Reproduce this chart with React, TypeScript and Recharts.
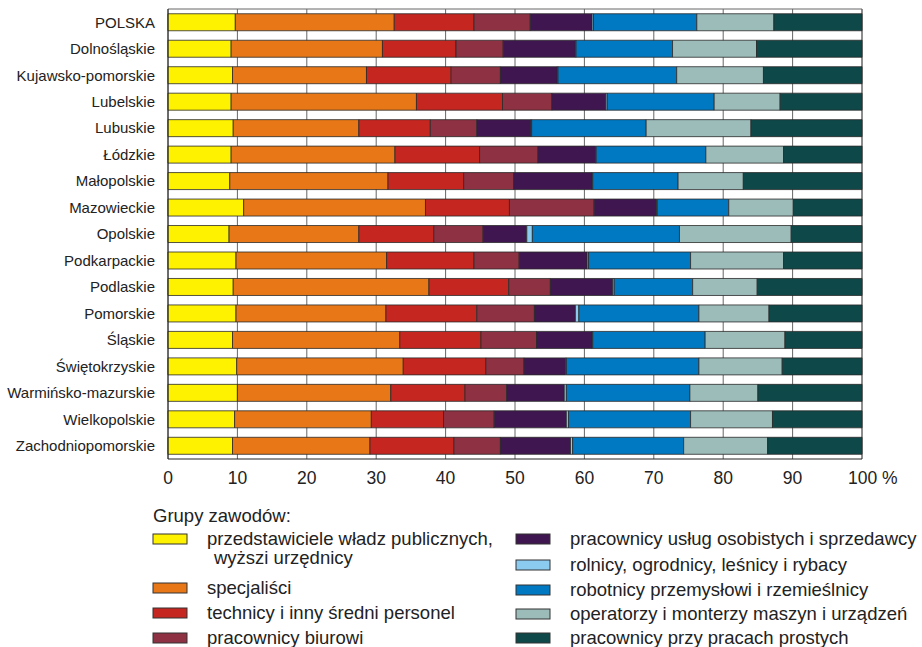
import React from "react";
import { BarChart, Bar, XAxis, YAxis, CartesianGrid } from "recharts";

const regions = [
  "POLSKA",
  "Dolnośląskie",
  "Kujawsko-pomorskie",
  "Lubelskie",
  "Lubuskie",
  "Łódzkie",
  "Małopolskie",
  "Mazowieckie",
  "Opolskie",
  "Podkarpackie",
  "Podlaskie",
  "Pomorskie",
  "Śląskie",
  "Świętokrzyskie",
  "Warmińsko-mazurskie",
  "Wielkopolskie",
  "Zachodniopomorskie",
];

// shares in % per region, same order as regions
const przedstawiciele = [9.7, 9.1, 9.3, 9.1, 9.4, 9.1, 8.9, 10.9, 8.8, 9.8, 9.4, 9.8, 9.3, 9.9, 10.0, 9.6, 9.3];
const specjalisci = [22.9, 21.8, 19.3, 26.7, 18.1, 23.6, 22.8, 26.2, 18.7, 21.7, 28.2, 21.6, 24.1, 24.0, 22.1, 19.7, 19.8];
const technicy = [11.5, 10.6, 12.2, 12.4, 10.3, 12.2, 10.9, 12.1, 10.8, 12.6, 11.5, 13.1, 11.7, 11.9, 10.7, 10.4, 12.1];
const biurowi = [8.1, 6.8, 7.1, 7.1, 6.7, 8.4, 7.2, 12.2, 7.1, 6.5, 6.0, 8.3, 8.0, 5.5, 6.0, 7.3, 6.7];
const uslugi = [8.9, 10.4, 8.2, 7.8, 7.8, 8.3, 11.3, 9.0, 6.3, 9.8, 9.0, 5.9, 8.0, 6.0, 8.3, 10.4, 10.1];
const rolnicy = [0.2, 0.1, 0.1, 0.2, 0.1, 0.1, 0.1, 0.1, 0.8, 0.2, 0.2, 0.5, 0.1, 0.1, 0.3, 0.3, 0.3];
const robotnicy = [14.9, 13.9, 17.1, 15.4, 16.5, 15.8, 12.3, 10.3, 21.2, 14.7, 11.3, 17.3, 16.2, 19.1, 17.8, 17.6, 16.0];
const operatorzy = [11.1, 12.1, 12.5, 9.5, 15.1, 11.2, 9.4, 9.3, 16.1, 13.4, 9.3, 10.1, 11.5, 12.0, 9.8, 11.8, 12.1];
const proste = [12.7, 15.2, 14.2, 11.8, 16.0, 11.3, 17.1, 9.9, 10.2, 11.3, 15.1, 13.4, 11.1, 11.5, 15.0, 12.9, 13.6];

const xTicks = [0, 10, 20, 30, 40, 50, 60, 70, 80, 90, 100];

const series = [
  { key: "przedstawiciele", values: przedstawiciele, color: "#FFF200", label: "przedstawiciele władz publicznych," },
  { key: "specjalisci", values: specjalisci, color: "#E87817", label: "specjaliści" },
  { key: "technicy", values: technicy, color: "#C52620", label: "technicy i inny średni personel" },
  { key: "biurowi", values: biurowi, color: "#8E3142", label: "pracownicy biurowi" },
  { key: "uslugi", values: uslugi, color: "#3F1650", label: "pracownicy usług osobistych i sprzedawcy" },
  { key: "rolnicy", values: rolnicy, color: "#8CCBF0", label: "rolnicy, ogrodnicy, leśnicy i rybacy" },
  { key: "robotnicy", values: robotnicy, color: "#0079C2", label: "robotnicy przemysłowi i rzemieślnicy" },
  { key: "operatorzy", values: operatorzy, color: "#9CBCBA", label: "operatorzy i monterzy maszyn i urządzeń" },
  { key: "proste", values: proste, color: "#0E4849", label: "pracownicy przy pracach prostych" },
];

const data = regions.map((name, i) => {
  const row: any = { name };
  series.forEach((s) => {
    row[s.key] = s.values[i];
  });
  return row;
});

const FONT = '"Liberation Sans", Arial, Helvetica, sans-serif';

const XTick = (props: any) => {
  const { x, y, payload } = props;
  const isLast = payload.value === 100;
  return (
    <text
      x={isLast ? x - 14 : x}
      y={y + 5}
      dy="0.71em"
      textAnchor={isLast ? "start" : "middle"}
      fontSize={17.5}
      fill="#222"
      fontFamily={FONT}
    >
      {isLast ? "100 %" : payload.value}
    </text>
  );
};

const Swatch = ({ x, y, color }: { x: number; y: number; color: string }) => (
  <rect x={x} y={y - 5} width={34} height={10} fill={color} stroke="#333" strokeWidth={1} />
);

const Legend = () => {
  const left = series.slice(0, 4);
  const right = series.slice(4);
  const leftY = [538, 587, 612, 637];
  const rightY = [538, 564, 589, 613, 637];
  const fs = 18.5;
  return (
    <svg width={922} height={647} style={{ position: "absolute", left: 0, top: 0, pointerEvents: "none" }}>
      <text x={153} y={515} dominantBaseline="central" fontSize={fs} fill="#222" fontFamily={FONT}>
        Grupy zawodów:
      </text>
      {left.map((s, i) => (
        <g key={s.key}>
          <Swatch x={153} y={leftY[i] + 1} color={s.color} />
          <text x={207} y={leftY[i]} dominantBaseline="central" fontSize={fs} fill="#222" fontFamily={FONT}>
            {s.label}
          </text>
        </g>
      ))}
      <text x={214} y={557} dominantBaseline="central" fontSize={fs} fill="#222" fontFamily={FONT}>
        wyższi urzędnicy
      </text>
      {right.map((s, i) => (
        <g key={s.key}>
          <Swatch x={516} y={rightY[i] + 1} color={s.color} />
          <text x={570} y={rightY[i]} dominantBaseline="central" fontSize={fs} fill="#222" fontFamily={FONT}>
            {s.label}
          </text>
        </g>
      ))}
    </svg>
  );
};

export default function App() {
  return (
    <div
      style={{
        position: "absolute",
        left: 0,
        top: 0,
        width: 922,
        height: 647,
        overflow: "hidden",
        background: "#fff",
        fontFamily: FONT,
      }}
    >
      <BarChart
        width={922}
        height={490}
        data={data}
        layout="vertical"
        margin={{ top: 9, right: 60, bottom: 1, left: 0 }}
        barCategoryGap="18%"
      >
        <CartesianGrid vertical horizontal horizontalPoints={[9]} stroke="#666" strokeWidth={1} />
        <XAxis
          type="number"
          domain={[0, 100]}
          ticks={xTicks}
          interval={0}
          height={30}
          tickLine={false}
          axisLine={{ stroke: "#222" }}
          tick={<XTick />}
        />
        <YAxis
          type="category"
          dataKey="name"
          width={168}
          interval={0}
          tickLine={false}
          tickSize={6}
          tickMargin={7}
          axisLine={{ stroke: "#222" }}
          tick={{ fontSize: 15, fill: "#222", fontFamily: FONT }}
        />
        {series.map((s) => (
          <Bar
            key={s.key}
            dataKey={s.key}
            stackId="a"
            fill={s.color}
            stroke="#2a2a2a"
            strokeWidth={0.8}
            isAnimationActive={false}
          />
        ))}
      </BarChart>
      <Legend />
    </div>
  );
}
